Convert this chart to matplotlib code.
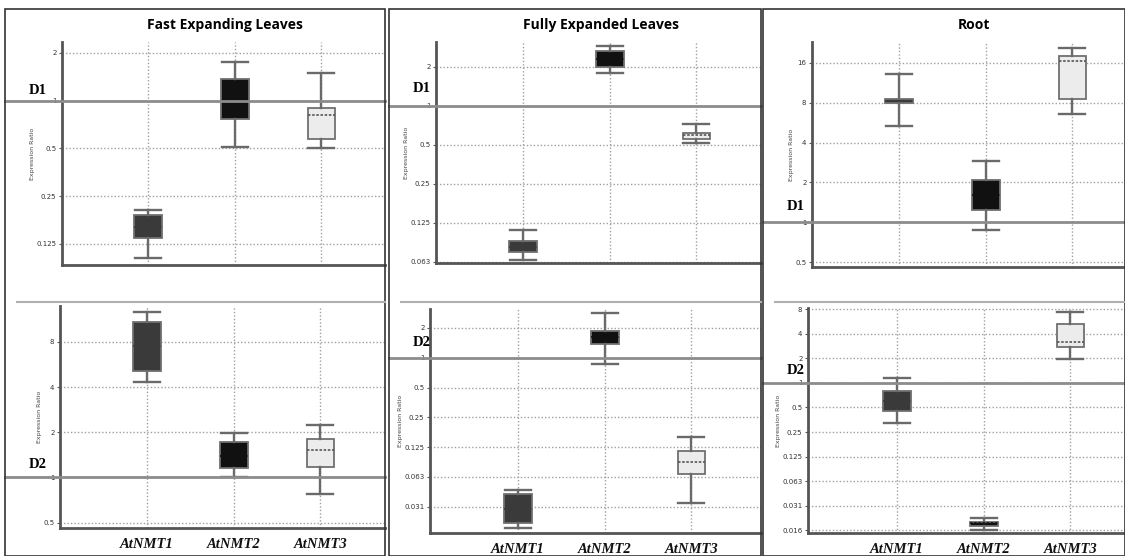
import matplotlib.pyplot as plt
from matplotlib.patches import Rectangle
from matplotlib.lines import Line2D
import numpy as np

genes = ["AtNMT1", "AtNMT2", "AtNMT3"]
tissues = ["Fast Expanding Leaves", "Fully Expanded Leaves", "Root"]

# box stats per gene: (whisker low, q1, median, q3, whisker high)
fel_d1 = [(0.102, 0.136, 0.16, 0.190, 0.204),
          (0.51, 0.76, 1.0, 1.37, 1.75),
          (0.50, 0.57, 0.81, 0.90, 1.50)]
fel_d2 = [(4.3, 5.1, 7.5, 10.9, 12.7),
          (1.0, 1.15, 1.4, 1.71, 1.98),
          (0.78, 1.18, 1.52, 1.80, 2.23)]
fxl_d1 = [(0.064, 0.074, 0.082, 0.090, 0.11),
          (1.80, 2.0, 2.3, 2.65, 2.89),
          (0.52, 0.55, 0.59, 0.62, 0.72)]
fxl_d2 = [(0.019, 0.0215, 0.03, 0.0422, 0.046),
          (0.87, 1.38, 1.6, 1.87, 2.83),
          (0.034, 0.067, 0.088, 0.114, 0.16)]
root_d1 = [(5.3, 7.9, 8.2, 8.6, 13.2),
           (0.87, 1.23, 1.6, 2.1, 2.93),
           (6.6, 8.6, 16.6, 18.0, 20.7)]
root_d2 = [(0.32, 0.45, 0.6, 0.8, 1.15),
           (0.0157, 0.0175, 0.019, 0.020, 0.022),
           (1.95, 2.74, 3.15, 5.3, 7.3)]

ticks_fel_d1 = [0.125, 0.25, 0.5, 1, 2]
ticks_fel_d2 = [0.5, 1, 2, 4, 8]
ticks_fxl_d1 = [0.0625, 0.125, 0.25, 0.5, 1, 2]
ticks_fxl_d2 = [0.03125, 0.0625, 0.125, 0.25, 0.5, 1, 2]
ticks_root_d1 = [0.5, 1, 2, 4, 8, 16]
ticks_root_d2 = [0.015625, 0.03125, 0.0625, 0.125, 0.25, 0.5, 1, 2, 4, 8]

tick_text = {0.015625: "0.016", 0.03125: "0.031", 0.0625: "0.063", 0.125: "0.125",
             0.25: "0.25", 0.5: "0.5", 1: "1", 2: "2", 4: "4", 8: "8", 16: "16"}

face = ["#3a3a3a", "#111111", "#ececec"]

W, H = 1125, 556
fig = plt.figure(figsize=(W / 100, H / 100), dpi=100)


def px_axes(left, right, top, bottom):
    return fig.add_axes([left / W, 1 - bottom / H, (right - left) / W, (bottom - top) / H])


# (stats, ticks, ylim, axes px box, first box center px, panel left px, label, label y px)
panels = [
    (fel_d1, ticks_fel_d1, (0.092, 2.34), (62, 385, 42, 265), 148, 5, "D1", 90),
    (fel_d2, ticks_fel_d2, (0.46, 13.9), (60, 385, 306, 528), 147, 5, "D2", 464),
    (fxl_d1, ticks_fxl_d1, (0.0612, 3.1), (436, 761, 42, 263), 523, 389, "D1", 88),
    (fxl_d2, ticks_fxl_d2, (0.017, 3.1), (430, 761, 309, 533), 518, 389, "D2", 342),
    (root_d1, ticks_root_d1, (0.46, 23), (812, 1125, 42, 267), 899, 763, "D1", 207),
    (root_d2, ticks_root_d2, (0.0145, 8.25), (808, 1125, 308, 533), 897, 763, "D2", 371),
]

spacing = 86.7
for i, (stats, ticks, ylim, box, x0, pleft, lab, laby) in enumerate(panels):
    left, right, top, bottom = box
    ax = px_axes(left, right, top, bottom)
    ax.set_yscale("log", base=2)
    lo = 1 - (x0 - left) / spacing
    ax.set_xlim(lo, lo + (right - left) / spacing)
    ax.set_ylim(*ylim)

    bstats = [dict(whislo=s[0], q1=s[1], med=s[2], q3=s[3], whishi=s[4]) for s in stats]
    res = ax.bxp(bstats, positions=[1, 2, 3], widths=0.32, capwidths=0.3,
                 showfliers=False, patch_artist=True,
                 boxprops=dict(edgecolor="#707070", linewidth=1.3),
                 whiskerprops=dict(color="#6a6a6a", linewidth=1.7),
                 capprops=dict(color="#6a6a6a", linewidth=1.7),
                 medianprops=dict(color="#555555", linewidth=1.2, linestyle=(0, (1.5, 1))),
                 manage_ticks=False, zorder=3)
    for b, c in zip(res["boxes"], face):
        b.set_facecolor(c)
    for m, c in zip(res["medians"][:2], face[:2]):
        m.set_color(c)

    ax.set_yticks(ticks)
    ax.set_yticklabels([tick_text[t] for t in ticks])
    ax.minorticks_off()
    ax.set_xticks([1, 2, 3])
    ax.tick_params(axis="y", labelsize=5, length=2, colors="#555555", labelcolor="#333333", pad=2)
    ax.tick_params(axis="x", length=0)
    if i % 2 == 1:
        ax.set_xticklabels(genes, fontfamily="Liberation Serif", fontweight="bold",
                           fontstyle="italic", fontsize=10.5, color="#111111")
        ax.tick_params(axis="x", pad=7)
    else:
        ax.set_xticklabels([])
    ax.grid(True, linestyle=(0, (1, 1.5)), color="#a0a0a0", linewidth=1)
    ax.set_axisbelow(True)
    for s in ["top", "right"]:
        ax.spines[s].set_visible(False)
    for s in ["left", "bottom"]:
        ax.spines[s].set_color("#555555")
        ax.spines[s].set_linewidth(2)
    ax.set_ylabel("Expression Ratio", fontsize=4.5, color="#444444", labelpad=1)

    # reference line at ratio 1 reaching the panel border
    ax.axhline(1, xmin=-(left - pleft) / (right - left), xmax=1, color="#8c8c8c",
               linewidth=2, clip_on=False, zorder=5)
    fig.text((pleft + 24) / W, 1 - laby / H, lab, fontfamily="Liberation Serif",
             fontweight="bold", fontsize=10.5, va="center", ha="left")

# panel frames, titles and separators
frames = [(5, 385), (389, 761), (763, 1125)]
title_x = [225, 601, 974]
for (x1, x2), t, tx in zip(frames, tissues, title_x):
    fig.patches.append(Rectangle((x1 / W, 0), (x2 - x1) / W, 1 - 9 / H, transform=fig.transFigure,
                                 fill=False, edgecolor="#333333", linewidth=1.2))
    fig.text(tx / W, 1 - 25 / H, t, ha="center", va="center", fontfamily="Open Sans",
             fontweight="bold", fontsize=10)
    fig.lines.append(Line2D([(x1 + 12) / W, x2 / W], [1 - 302 / H, 1 - 302 / H],
                            transform=fig.transFigure, color="#b0b0b0", linewidth=1.5))

fig.savefig("out.png", dpi=100)
